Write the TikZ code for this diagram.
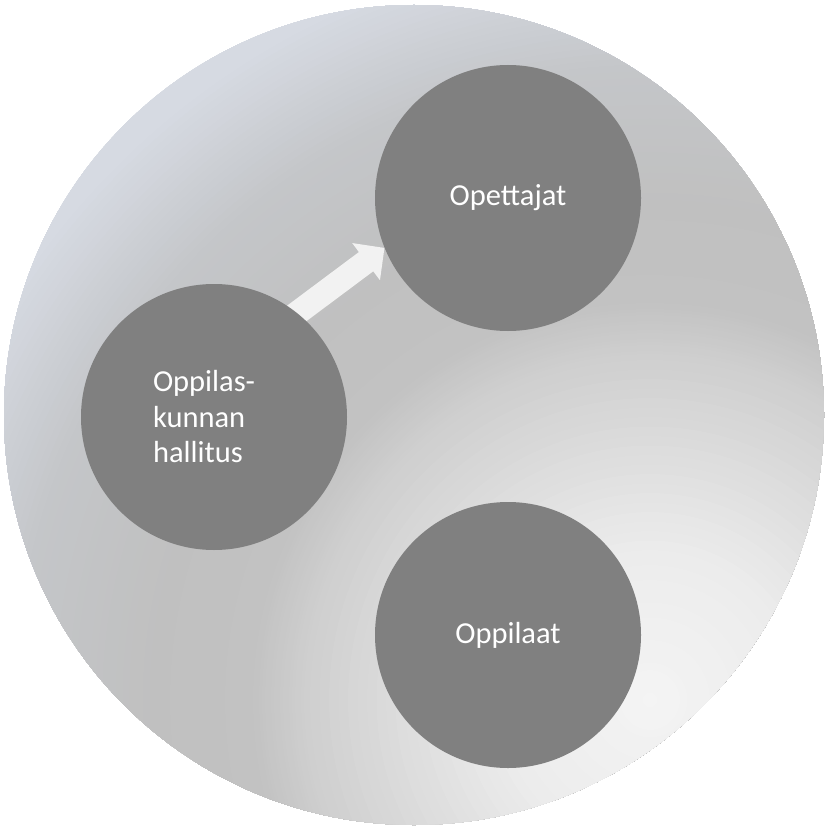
\documentclass[tikz,border=0pt]{standalone}
\usepackage{fontspec}
\setmainfont{Carlito}
\usepackage{tikz}
\usepackage{xcolor}
\usetikzlibrary{
  positioning, arrows.meta, backgrounds,
}
\definecolor{cDisc}     {HTML}{808080}
\definecolor{cArrow}    {HTML}{F2F2F2}
\definecolor{cGlowA}    {HTML}{F4F4F4}
\definecolor{cGlowB}    {HTML}{ECECEC}
\definecolor{cGlowC}    {HTML}{D0D0D0}
\definecolor{cGlowD}    {HTML}{C2C2C2}
\definecolor{cGlowE}    {HTML}{C0C0C0}
\definecolor{cGlowF}    {HTML}{C4C6C9}
\definecolor{cGlowG}    {HTML}{D6DAE2}
\tikzset{
  disc/.style={circle, fill=cDisc, minimum size=266pt, inner sep=0pt,
    text=white, font=\fontsize{30.5}{35.5}\selectfont},
}

\begin{document}
\begin{tikzpicture}[x=1pt, y=-1pt]
        \useasboundingbox (0,0) rectangle (826,826);
        % three discs
        \node[disc] (opettajat) at (508,198) {Opettajat};
        \node[disc, align=left, text width=122pt] (hallitus) at (214,417) {Oppilas-\\kunnan\\hallitus};
        \node[disc] (oppilaat) at (508,635) {Oppilaat};
        \coordinate (glow) at (650,700);
        \coordinate (armtail) at (225,367);
        % big disc, glow rings from outside in, and arrow behind
        \begin{scope}[on background layer]
          \begin{scope}
            \clip (414,415) circle (410);
            \foreach \ra/\rb/\ca/\cb in {760/800/cGlowG/cGlowG, 635/760/cGlowF/cGlowG,
                500/635/cGlowE/cGlowF, 400/500/cGlowD/cGlowE, 340/400/cGlowC/cGlowD,
                150/340/cGlowB/cGlowC, 0/150/cGlowA/cGlowB}{
              \foreach \k in {0,...,19}{
                \pgfmathsetmacro\rr{\rb-(\rb-\ra)*\k/20}
                \pgfmathsetmacro\pp{100-5*\k}
                \fill[\cb!\pp!\ca] (glow) circle (\rr);
              }
            }
          \end{scope}
          \draw[cArrow, line width=24pt, -{Triangle[width=45pt, length=23pt]}]
                (armtail) -- (opettajat.202);
        \end{scope}
      \end{tikzpicture}
\end{document}
